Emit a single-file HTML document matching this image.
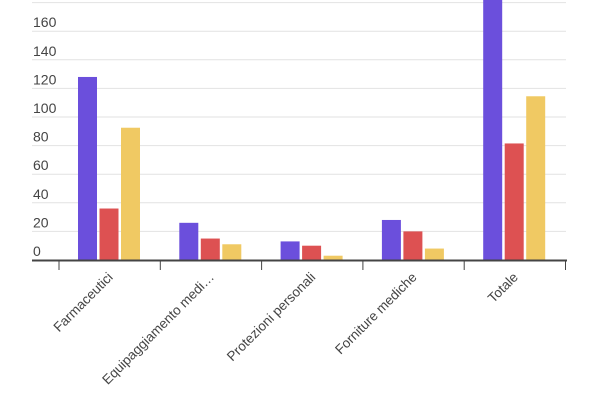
<!DOCTYPE html>
<html><head><meta charset="utf-8"><style>
html,body{margin:0;padding:0;background:#fff;}
svg{display:block;font-family:"Liberation Sans",sans-serif;}
</style></head><body>
<svg id="chart" width="600" height="400"></svg>
<script>
const categories=["Farmaceutici","Equipaggiamento medi…","Protezioni personali","Forniture mediche","Totale"];
const series1=[128,26,13,28,195];
const series2=[36,15,10,20,81.5];
const series3=[92.5,11,3,8,114.5];
const yTicks=[0,20,40,60,80,100,120,140,160,180];
const colors=["#6b4fdc","#dd5152","#f0c963"];
const NS="http://www.w3.org/2000/svg";
const svg=document.getElementById('chart');
const x0=59,cw=101.3,y0=260,ppu=1.43;
const y=v=>y0-v*ppu;
function mk(t,a){const e=document.createElementNS(NS,t);for(const k in a)e.setAttribute(k,a[k]);svg.appendChild(e);return e;}
yTicks.forEach(t=>{
 const g=mk('line',{x1:32,x2:566,y1:y(t),y2:y(t),stroke:'#e2e2e2','stroke-width':1});
 
 
 if(t<180){const l=mk('text',{x:33,y:y(t)-4,'font-size':14,fill:'#444'});l.textContent=t;
 
 }
});
const all=[series1,series2,series3];
categories.forEach((c,i)=>{
 all.forEach((s,j)=>{
  const r=mk('rect',{x:x0+i*cw+19+j*21.5,y:y(s[i]),width:19,height:s[i]*ppu,fill:colors[j]});
  
  
 });
 const cx=x0+i*cw+cw/2+4;
 const t=mk('text',{x:cx,y:278,'font-size':13.5,fill:'#444','text-anchor':'end',transform:`rotate(-45 ${cx} 278)`});
 t.textContent=c;
 
 
});
for(let i=0;i<=5;i++){const tk=mk('line',{x1:x0+i*cw,x2:x0+i*cw,y1:260,y2:270,stroke:'#444','stroke-width':1});
 
 }
const ax=mk('line',{x1:32,x2:567,y1:260.5,y2:260.5,stroke:'#444','stroke-width':2});


</script>
</body></html>
